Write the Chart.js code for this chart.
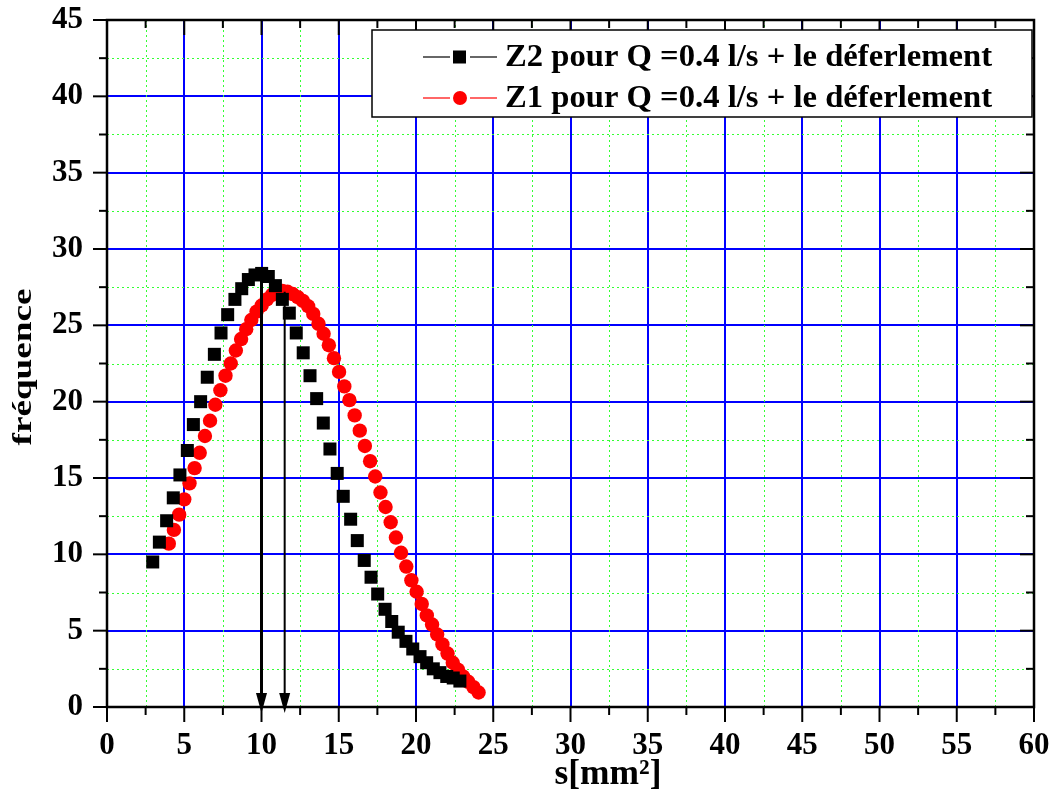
<!DOCTYPE html>
<html><head><meta charset="utf-8">
<script src="https://cdn.jsdelivr.net/npm/chart.js@4/dist/chart.umd.min.js"></script>
<style>html,body{margin:0;padding:0;background:#fff}#wrap{width:1055px;height:798px;position:relative}</style>
</head><body><div id="wrap"><canvas id="c" width="1055" height="798"></canvas></div>
<script>
// ---- data ----
const z2X = [2.96,3.39,3.86,4.29,4.72,5.20,5.59,6.06,6.49,6.95,7.38,7.81,8.28,8.72,9.15,9.58,10.01,10.44,10.90,11.35,11.80,12.25,12.70,13.14,13.57,14.00,14.43,14.90,15.29,15.77,16.20,16.65,17.09,17.52,18.00,18.43,18.85,19.35,19.79,20.26,20.69,21.12,21.55,21.99,22.41,22.84];
const z2Y = [9.5,10.8,12.2,13.7,15.2,16.8,18.5,20.0,21.6,23.1,24.5,25.7,26.7,27.4,28.0,28.3,28.4,28.2,27.6,26.7,25.8,24.5,23.2,21.7,20.2,18.6,16.9,15.3,13.8,12.3,10.9,9.6,8.5,7.4,6.4,5.6,4.9,4.3,3.8,3.3,2.9,2.5,2.25,2.0,1.9,1.7];
const z1X = [4.00,4.33,4.67,5.00,5.34,5.67,6.00,6.34,6.67,7.01,7.34,7.67,8.01,8.34,8.68,9.01,9.34,9.68,10.01,10.35,10.68,11.01,11.35,11.68,12.02,12.35,12.68,13.02,13.35,13.69,14.02,14.36,14.69,15.02,15.36,15.69,16.03,16.36,16.69,17.03,17.36,17.70,18.03,18.36,18.70,19.03,19.37,19.70,20.04,20.37,20.70,21.04,21.37,21.71,22.04,22.38,22.71,23.05,23.38,23.72,24.05];
const z1Y = [10.7,11.6,12.6,13.6,14.65,15.65,16.65,17.75,18.75,19.8,20.75,21.7,22.5,23.35,24.1,24.75,25.35,25.9,26.3,26.7,27.0,27.15,27.25,27.2,27.05,26.85,26.6,26.25,25.75,25.1,24.45,23.7,22.85,21.95,21.0,20.1,19.1,18.1,17.1,16.1,15.1,14.05,13.1,12.1,11.1,10.1,9.2,8.3,7.55,6.75,6.0,5.4,4.75,4.1,3.5,2.9,2.45,2.0,1.65,1.3,0.95];
const seriesLabels = ['Z2 pour Q =0.4 l/s + le déferlement', 'Z1 pour Q =0.4 l/s + le déferlement'];
const xTitle = 's[mm²]';
const yTitle = 'fréquence';
const xAxisRange = [0, 60];   // min, max
const yAxisRange = [0, 45];
const majorStep = 5;
const minorStep = 2.5;
const arrowX = [10.0, 11.5];
const arrowTop = [28.6, 27.2];

const FONT = 'Liberation Serif';
const toPts = (xs, ys) => xs.map((x, i) => ({x: x, y: ys[i]}));

const decor = {
  id: 'decor',
  beforeDatasetsDraw(chart) {
    const {ctx, chartArea: a, scales: {x, y}} = chart;
    ctx.save();
    ctx.strokeStyle = '#33ff33';
    ctx.lineWidth = 1;
    ctx.setLineDash([2, 3]);
    for (let v = xAxisRange[0] + minorStep; v < xAxisRange[1]; v += majorStep) {
      const p = Math.round(x.getPixelForValue(v)) + 0.5;
      ctx.beginPath(); ctx.moveTo(p, a.top); ctx.lineTo(p, a.bottom); ctx.stroke();
    }
    for (let v = yAxisRange[0] + minorStep; v < yAxisRange[1]; v += majorStep) {
      const p = Math.round(y.getPixelForValue(v)) + 0.5;
      ctx.beginPath(); ctx.moveTo(a.left, p); ctx.lineTo(a.right, p); ctx.stroke();
    }
    ctx.restore();
  },
  afterDatasetsDraw(chart) {
    const {ctx, chartArea: a, scales: {x, y}} = chart;
    ctx.save();
    // arrows
    const widths = [3, 2];
    arrowX.forEach((v, i) => {
      const px = x.getPixelForValue(v);
      const top = y.getPixelForValue(arrowTop[i]);
      const tip = y.getPixelForValue(0) + 6;
      ctx.strokeStyle = '#000'; ctx.fillStyle = '#000';
      ctx.lineWidth = widths[i];
      ctx.beginPath(); ctx.moveTo(px, top); ctx.lineTo(px, tip - 16); ctx.stroke();
      ctx.beginPath(); ctx.moveTo(px - 5.5, tip - 20); ctx.lineTo(px + 5.5, tip - 20); ctx.lineTo(px, tip); ctx.closePath(); ctx.fill();
    });
    // frame
    ctx.strokeStyle = '#000'; ctx.lineWidth = 2.5;
    ctx.strokeRect(a.left, a.top, a.right - a.left, a.bottom - a.top);
    // ticks
    ctx.lineWidth = 2;
    for (let v = xAxisRange[0]; v <= xAxisRange[1] + 1e-9; v += minorStep) {
      const major = Math.abs(v / majorStep - Math.round(v / majorStep)) < 1e-6;
      const L = major ? 15 : 8;
      const p = x.getPixelForValue(v);
      ctx.beginPath(); ctx.moveTo(p, a.bottom); ctx.lineTo(p, a.bottom + L); ctx.stroke();
      ctx.beginPath(); ctx.moveTo(p, a.top); ctx.lineTo(p, a.top + L); ctx.stroke();
    }
    for (let v = yAxisRange[0]; v <= yAxisRange[1] + 1e-9; v += minorStep) {
      const major = Math.abs(v / majorStep - Math.round(v / majorStep)) < 1e-6;
      const L = major ? 14 : 8;
      const p = y.getPixelForValue(v);
      ctx.beginPath(); ctx.moveTo(a.left, p); ctx.lineTo(a.left - L, p); ctx.stroke();
      ctx.beginPath(); ctx.moveTo(a.right, p); ctx.lineTo(a.right - L, p); ctx.stroke();
    }
    // legend
    const lx = 372, ly = 30, lw = 660, lh = 87;
    ctx.fillStyle = '#fff';
    ctx.fillRect(lx, ly, lw, lh);
    ctx.strokeStyle = '#000'; ctx.lineWidth = 1.5;
    ctx.strokeRect(lx, ly, lw, lh);
    const rows = [57, 98];
    chart.data.datasets.forEach((ds, i) => {
      const cy = rows[i];
      ctx.strokeStyle = ds.backgroundColor; ctx.lineWidth = 1.2;
      ctx.beginPath(); ctx.moveTo(423, cy); ctx.lineTo(450, cy); ctx.stroke();
      ctx.beginPath(); ctx.moveTo(470, cy); ctx.lineTo(497, cy); ctx.stroke();
      ctx.fillStyle = ds.backgroundColor;
      if (ds.pointStyle === 'rect') {
        ctx.fillRect(453, cy - 6.5, 13, 13);
      } else {
        ctx.beginPath(); ctx.arc(460, cy, 7, 0, Math.PI * 2); ctx.fill();
      }
      ctx.fillStyle = '#000';
      ctx.font = 'bold 28px "' + FONT + '"';
      ctx.textBaseline = 'middle';
      ctx.textAlign = 'left';
      const w = ctx.measureText(ds.label).width;
      const sx = 487 / w;
      ctx.save();
      ctx.translate(505, cy + 1);
      ctx.scale(sx, 1.12);
      ctx.fillText(ds.label, 0, 0);
      ctx.restore();
    });
    // axis titles
    ctx.fillStyle = '#000';
    ctx.font = 'bold 30px "' + FONT + '"';
    ctx.textAlign = 'center'; ctx.textBaseline = 'middle';
    ctx.save();
    ctx.translate(608, 775);
    const tw = ctx.measureText(xTitle).width;
    ctx.scale(107 / tw, 1.2);
    ctx.fillText(xTitle, 0, 0);
    ctx.restore();
    ctx.save();
    ctx.font = 'bold 27px "' + FONT + '"';
    ctx.translate(24, 367);
    ctx.rotate(-Math.PI / 2);
    const yw = ctx.measureText(yTitle).width;
    ctx.scale(157 / yw, 1);
    ctx.fillText(yTitle, 0, 0);
    ctx.restore();
    ctx.restore();
  }
};

const gridColor = (range) => (c) => {
  const v = c.tick ? c.tick.value : null;
  return (v === range[0] || v === range[1]) ? 'rgba(0,0,0,0)' : '#0000ff';
};

new Chart(document.getElementById('c'), {
  type: 'scatter',
  data: {
    datasets: [
      {label: seriesLabels[0], data: toPts(z2X, z2Y), pointStyle: 'rect', pointRadius: 9.2, backgroundColor: '#000000', borderWidth: 0, showLine: false},
      {label: seriesLabels[1], data: toPts(z1X, z1Y), pointStyle: 'circle', pointRadius: 7.2, backgroundColor: '#ff0000', borderWidth: 0, showLine: false}
    ]
  },
  options: {
    responsive: false,
    devicePixelRatio: 1,
    animation: false,
    events: [],
    layout: {padding: {left: 0, top: 20, right: 21, bottom: 0}},
    plugins: {legend: {display: false}, tooltip: {enabled: false}, title: {display: false}},
    scales: {
      x: {
        type: 'linear', min: xAxisRange[0], max: xAxisRange[1],
        ticks: {stepSize: majorStep, color: '#000', padding: 20, maxRotation: 0, font: {family: FONT, size: 31, weight: 'bold'}},
        grid: {color: gridColor(xAxisRange), lineWidth: 2, drawTicks: false},
        border: {display: false},
        afterFit: (s) => { s.height = 91; s.paddingLeft = 0; s.paddingRight = 0; }
      },
      y: {
        type: 'linear', min: yAxisRange[0], max: yAxisRange[1],
        ticks: {stepSize: majorStep, color: '#000', padding: 24, font: {family: FONT, size: 31, weight: 'bold'}},
        grid: {color: gridColor(yAxisRange), lineWidth: 2, drawTicks: false},
        border: {display: false},
        afterFit: (s) => { s.width = 107; s.paddingTop = 0; s.paddingBottom = 0; }
      }
    }
  },
  plugins: [decor]
});
</script>
</body></html>
